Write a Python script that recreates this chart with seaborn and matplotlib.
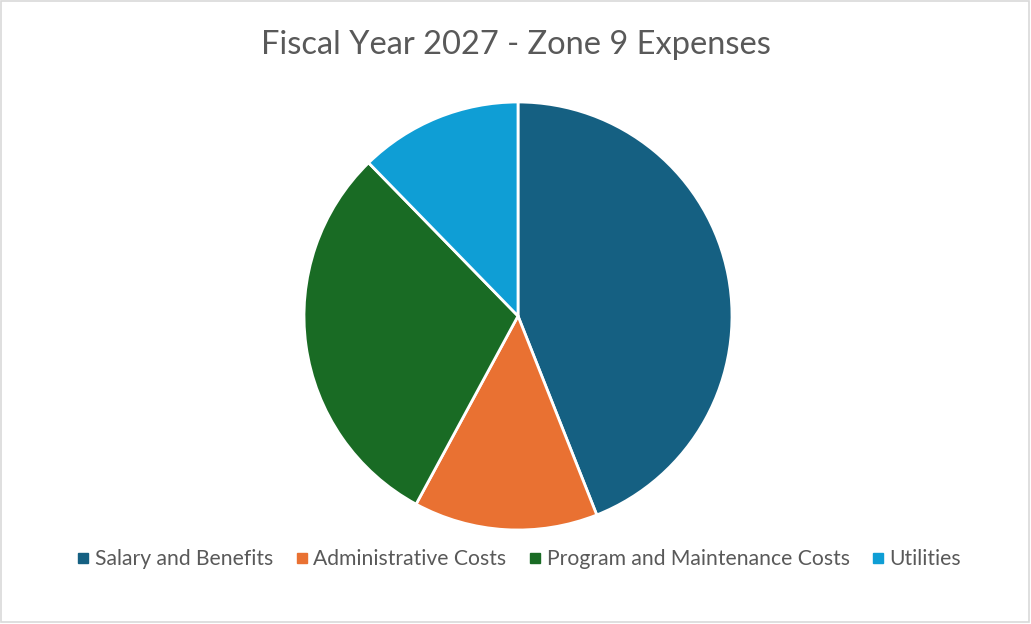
import matplotlib.pyplot as plt
import seaborn as sns
from matplotlib.patches import Rectangle
from matplotlib.lines import Line2D

categories = ["Salary and Benefits", "Administrative Costs",
              "Program and Maintenance Costs", "Utilities"]
shares = [44.0, 13.9, 29.8, 12.3]
colors = ["#156082", "#E97132", "#196B24", "#0F9ED5"]

sns.set_theme(style="white")
plt.rcParams['font.family'] = ['Lato', 'DejaVu Sans']

W, H = 1031, 624
fig = plt.figure(figsize=(W / 100, H / 100), dpi=100)

# light frame around the chart area
fig.patches.append(Rectangle((0.001, 0.003), 0.997, 0.995, transform=fig.transFigure,
                             fill=False, edgecolor="#d9d9d9", linewidth=1.2))

cx, cy, r = 518, 316, 214
ax = fig.add_axes([(cx - r) / W, (H - cy - r) / H, 2 * r / W, 2 * r / H])
ax.pie(shares, colors=colors, startangle=90, counterclock=False,
       wedgeprops=dict(edgecolor="white", linewidth=2))
ax.set_xlim(-1.0, 1.0)
ax.set_ylim(-1.0, 1.0)
ax.set_aspect("equal")
ax.axis("off")

fig.text(0.5, 1 - 45 / H, "Fiscal Year 2027 - Zone 9 Expenses", ha="center", va="center",
         fontsize=23.5, color="#595959")

handles = [Line2D([0], [0], marker="s", linestyle="", markersize=7,
                  markerfacecolor=c, markeredgecolor=c) for c in colors]
fig.legend(handles, categories, loc="center", bbox_to_anchor=(0.502, 1 - 559 / H), ncol=4,
           frameon=False, fontsize=15.2, labelcolor="#595959", handletextpad=0.1,
           columnspacing=0.9, handlelength=0.9)

fig.savefig("out.png", dpi=100)
